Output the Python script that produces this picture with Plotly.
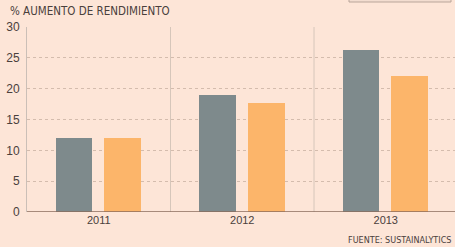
import plotly.graph_objects as go

years = ["2011", "2012", "2013"]
serie_a = [12.0, 18.9, 26.3]
serie_b = [12.0, 17.6, 22.0]
y_ticks = [0, 5, 10, 15, 20, 25, 30]

BG = "#fde5d7"
GRAY = "#7e8a8c"
ORANGE = "#fcb56a"
TXT = "#4a403c"

xs = list(range(len(years)))

fig = go.Figure()
fig.add_trace(go.Bar(x=xs, y=serie_a, width=0.255, offset=-0.30,
                     marker=dict(color=GRAY, line=dict(width=0)), showlegend=False,
                     hoverinfo="skip"))
fig.add_trace(go.Bar(x=xs, y=serie_b, width=0.255, offset=0.04,
                     marker=dict(color=ORANGE, line=dict(width=0)), showlegend=False,
                     hoverinfo="skip"))

PW, PH = 428, 185

def px(xp):
    return (xp - 27) / PW

def py(yp):
    return (212 - yp) / PH

shapes = []
for b in [0.5, 1.5]:
    shapes.append(dict(type="line", xref="x", yref="y", x0=b, x1=b, y0=0, y1=30,
                       line=dict(color="#d6c6ba", width=1), layer="below"))
# baseline
shapes.append(dict(type="line", xref="paper", yref="y", x0=0, x1=1.01, y0=0, y1=0,
                   line=dict(color="#8a6b5c", width=1.5)))
# cut-off legend box at top right
shapes.append(dict(type="rect", xref="paper", yref="paper",
                   x0=px(349), x1=px(451), y0=py(2), y1=py(-10),
                   line=dict(color="#b9a59a", width=1), fillcolor="#f3ddd0"))

FONT_N = "Liberation Sans Narrow, Arial Narrow, DejaVu Sans Condensed, sans-serif"

fig.update_layout(
    width=455, height=247,
    margin=dict(l=27, r=0, t=27, b=35),
    paper_bgcolor=BG, plot_bgcolor=BG,
    bargap=0, barmode="overlay",
    hovermode=False,
    shapes=shapes,
    xaxis=dict(range=[-0.5, -0.5 + 428 / 143.5], tickvals=xs, ticktext=years,
               showgrid=False, zeroline=False, showline=False, ticks="",
               automargin=False,
               tickfont=dict(family="Liberation Sans, Arial, sans-serif", size=11, color=TXT),
               fixedrange=True),
    yaxis=dict(range=[0, 30], tickvals=y_ticks, showgrid=True,
               gridcolor="#d4bcad", griddash="dot", gridwidth=1,
               zeroline=False, showline=True, linecolor="#cbbfb7", linewidth=1,
               ticks="", ticklabelstandoff=4, automargin=False,
               tickfont=dict(family="Liberation Sans, Arial, sans-serif", size=12, color=TXT),
               fixedrange=True),
    annotations=[
        dict(text="% AUMENTO DE RENDIMIENTO", xref="paper", yref="paper",
             x=px(8), y=py(11), xanchor="left", yanchor="middle",
             showarrow=False, font=dict(family=FONT_N, size=11.5, color=TXT)),
        dict(text="FUENTE: SUSTAINALYTICS", xref="paper", yref="paper",
             x=px(453), y=py(240), xanchor="right", yanchor="middle",
             showarrow=False, font=dict(family=FONT_N, size=9, color=TXT)),
    ],
)

fig.write_html(
    "out.html",
    config={"displayModeBar": False, "staticPlot": True},
    post_script="document.body.style.margin='0';document.body.style.padding='0';"
                "document.body.style.background='" + BG + "';",
)
